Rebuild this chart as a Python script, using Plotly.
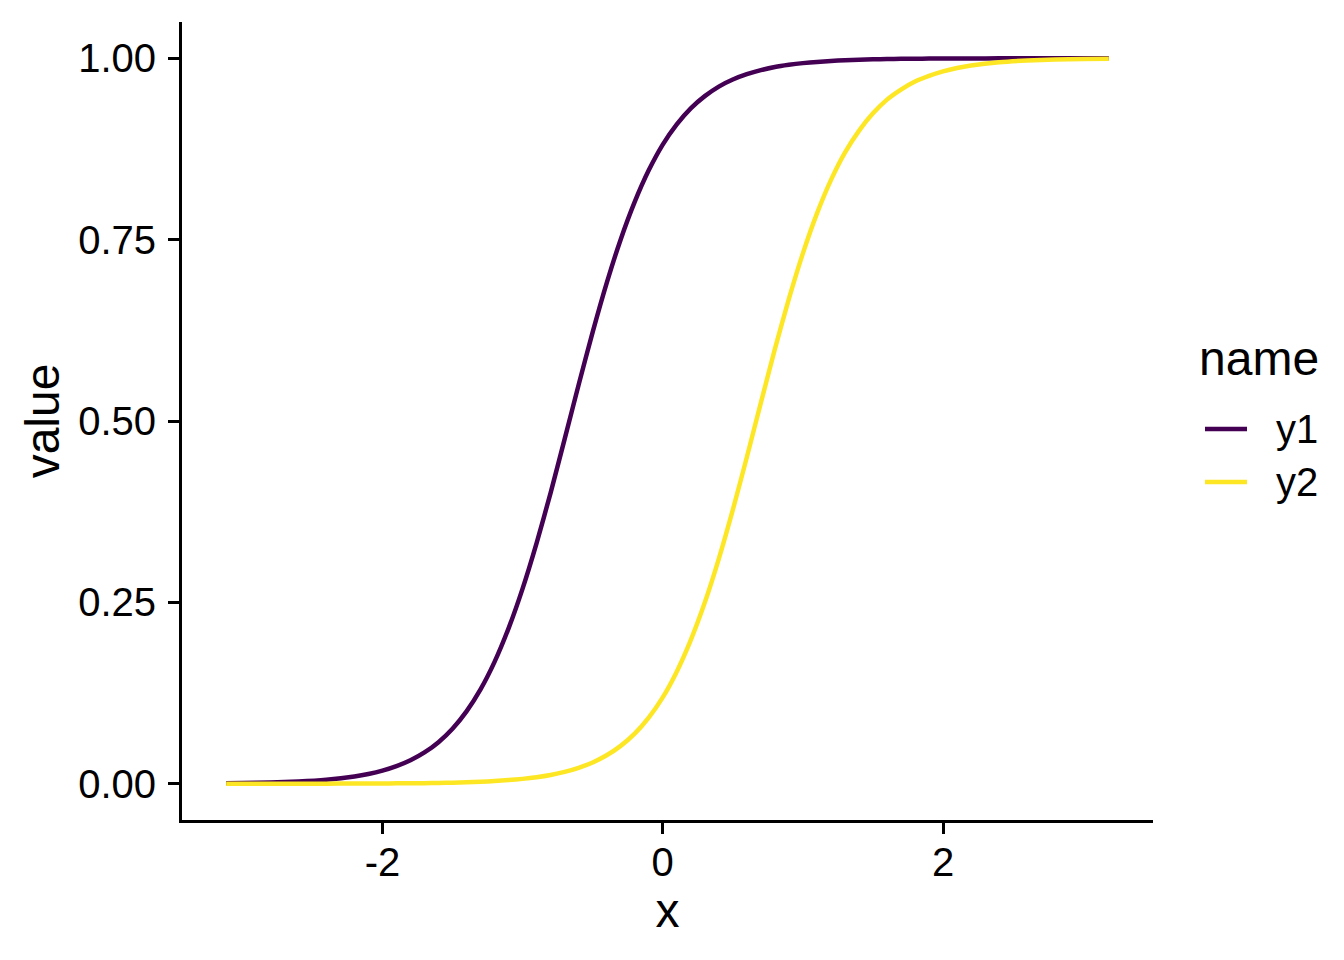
import plotly.graph_objects as go

# values
x_vals = [-3.115, -3.0, -2.8, -2.6, -2.4, -2.2,
          -2.1, -2.0, -1.9, -1.8, -1.7, -1.6, -1.5, -1.4, -1.3, -1.2, -1.1, -1.0,
          -0.9, -0.8, -0.7, -0.6, -0.5, -0.4, -0.3, -0.2, -0.1, 0.0,
          0.1, 0.2, 0.3, 0.4, 0.5, 0.6, 0.7, 0.8, 0.9, 1.0,
          1.1, 1.2, 1.3, 1.4, 1.5, 1.6, 1.7, 1.8, 1.9, 2.0, 2.1,
          2.2, 2.4, 2.6, 2.8, 3.0, 3.183]
y1_vals = [0.0006, 0.0009, 0.0017, 0.0030, 0.0055, 0.0100,
           0.0134, 0.0180, 0.0242, 0.0323, 0.0431, 0.0573, 0.0759, 0.0998, 0.1301, 0.168, 0.2142, 0.269,
           0.3318, 0.401, 0.475, 0.550, 0.6225, 0.690, 0.7503, 0.802, 0.8455, 0.881,
           0.9089, 0.931, 0.9478, 0.961, 0.9707, 0.978, 0.9837, 0.988, 0.991, 0.9933,
           0.995, 0.9963, 0.9973, 0.998, 0.9985, 0.9989, 0.9992, 0.9994, 0.9996, 0.9997, 0.9998,
           0.9998, 0.9999, 0.9999, 1.0, 1.0, 1.0]
y2_vals = [0.0, 0.0, 0.0, 0.0001, 0.0001, 0.0002,
           0.0003, 0.0003, 0.0005, 0.0006, 0.0008, 0.0011, 0.0015, 0.0020, 0.0027, 0.0037, 0.0050, 0.0067,
           0.0090, 0.0121, 0.0163, 0.0219, 0.0293, 0.0392, 0.0522, 0.069, 0.0911, 0.119,
           0.1545, 0.198, 0.2497, 0.310, 0.3775, 0.450, 0.525, 0.599, 0.6682, 0.731,
           0.7858, 0.832, 0.8699, 0.900, 0.9241, 0.943, 0.9569, 0.968, 0.9758, 0.982, 0.9866,
           0.990, 0.9945, 0.997, 0.9983, 0.9991, 0.9995]
series_names = ["y1", "y2"]
series_colors = ["#440154", "#FDE725"]
legend_title = "name"
x_ticks = [-2, 0, 2]
y_ticks = [0.0, 0.25, 0.5, 0.75, 1.0]
y_tick_labels = ["0.00", "0.25", "0.50", "0.75", "1.00"]

FONT = "Liberation Sans, Arial, Helvetica, sans-serif"

# page offset (body margin) compensation
OFF = 8
L, R, T, B = 182 - OFF, 1344 - (1153 - OFF), 22 - OFF, 960 - (820 - OFF)
PW = 1153 - 182
PH = 820 - 22


def px_to_paper_x(px):
    return (px - 182) / PW


def px_to_paper_y(py):
    return (820 - py) / PH


fig = go.Figure()
for name, ys, col in zip(series_names, [y1_vals, y2_vals], series_colors):
    fig.add_trace(go.Scatter(x=x_vals, y=ys, mode="lines", name=name, showlegend=False,
                             line=dict(color=col, width=4.5, shape="spline", smoothing=0.6)))

axis_common = dict(showgrid=False, zeroline=False, showline=True, linecolor="black",
                   linewidth=2.8, ticks="outside", ticklen=11, tickwidth=2.8,
                   tickcolor="black", tickfont=dict(size=40, color="black", family=FONT),
                   automargin=False)

fig.update_xaxes(range=[-3.43, 3.498], tickvals=x_ticks, ticktext=[str(t) for t in x_ticks],
                 ticklabelstandoff=-6,
                 title=dict(text="x", font=dict(size=48, color="black", family=FONT), standoff=8),
                 **axis_common)
fig.update_yaxes(range=[-0.05, 1.05], tickvals=y_ticks, ticktext=y_tick_labels,
                 ticklabelstandoff=4,
                 title=dict(text="value", font=dict(size=48, color="black", family=FONT), standoff=4),
                 **axis_common)

# manual legend
shapes = []
annotations = [dict(text=legend_title, x=px_to_paper_x(1197), y=px_to_paper_y(359),
                    xref="paper", yref="paper", xanchor="left", yanchor="middle",
                    showarrow=False, font=dict(size=48, family=FONT, color="black"))]
key_y = [429, 482]
for name, col, ky in zip(series_names, series_colors, key_y):
    shapes.append(dict(type="line", xref="paper", yref="paper",
                       x0=px_to_paper_x(1205), x1=px_to_paper_x(1247),
                       y0=px_to_paper_y(ky), y1=px_to_paper_y(ky),
                       line=dict(color=col, width=4.5)))
    annotations.append(dict(text=name, x=px_to_paper_x(1274), y=px_to_paper_y(ky),
                            xref="paper", yref="paper", xanchor="left", yanchor="middle",
                            showarrow=False, font=dict(size=40, family=FONT, color="black")))

fig.update_layout(
    width=1344, height=960,
    margin=dict(l=L, r=R, t=T, b=B, autoexpand=False),
    plot_bgcolor="white", paper_bgcolor="white",
    font=dict(family=FONT, color="black"),
    showlegend=False,
    shapes=shapes, annotations=annotations,
)

fig.write_html("out.html")
